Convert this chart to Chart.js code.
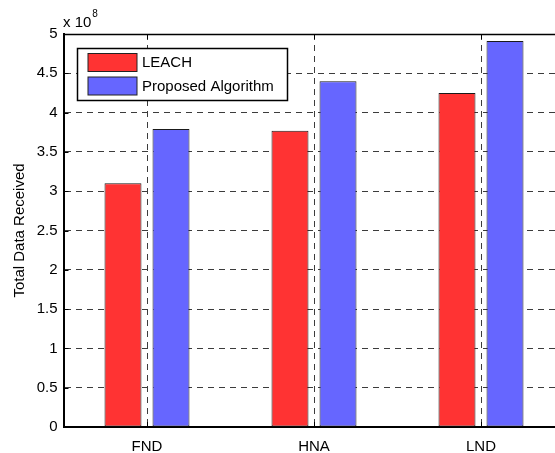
<!DOCTYPE html>
<html>
<head>
<meta charset="utf-8">
<script src="https://cdn.jsdelivr.net/npm/chart.js@4/dist/chart.umd.min.js"></script>
<style>
  body { margin: 0; background: #fff; overflow: hidden; }
  #wrap { position: relative; width: 555px; height: 453px; overflow: hidden; }
  #chart { position: absolute; left: 0; top: 0; }
</style>
</head>
<body>
<div id="wrap"><canvas id="chart" width="600" height="453"></canvas></div>
<script>
// === data (values in units of 10^8) ===
const categories = ["FND", "HNA", "LND"];
const leachValues = [3.10, 3.77, 4.25];
const proposedValues = [3.79, 4.40, 4.91];
const seriesNames = ["LEACH", "Proposed Algorithm"];
const yTickLabels = ["0", "0.5", "1", "1.5", "2", "2.5", "3", "3.5", "4", "4.5", "5"];
const yTitle = "Total Data Received";
const exponentText = "x 10";
const exponentPower = "8";

const FONT = '"Liberation Sans", Arial, sans-serif';
const gridColor = "#3c3c3c";

// legend drawn inside the axes, plus the exponent label, y title, box and tick marks
const matlabLook = {
  id: "matlabLook",
  afterDraw(chart) {
    const ctx = chart.ctx;
    const a = chart.chartArea;
    const xs = chart.scales.x, ys = chart.scales.y;
    ctx.save();

    // top border
    ctx.strokeStyle = "#000";
    ctx.lineWidth = 1.5;
    ctx.beginPath();
    ctx.moveTo(a.left, a.top + 0.5);
    ctx.lineTo(a.right, a.top + 0.5);
    ctx.stroke();

    // inward tick marks
    ctx.lineWidth = 1;
    ys.ticks.forEach((t, i) => {
      const y = Math.round(ys.getPixelForTick(i)) + 0.5;
      ctx.beginPath();
      ctx.moveTo(a.left, y);
      ctx.lineTo(a.left + 5, y);
      ctx.stroke();
    });
    categories.forEach((c, i) => {
      const x = Math.round(xs.getPixelForTick(i)) + 0.5;
      ctx.beginPath();
      ctx.moveTo(x, a.bottom);
      ctx.lineTo(x, a.bottom - 5);
      ctx.moveTo(x, a.top);
      ctx.lineTo(x, a.top + 5);
      ctx.stroke();
    });

    // exponent label
    ctx.fillStyle = "#000";
    ctx.textBaseline = "alphabetic";
    ctx.textAlign = "left";
    ctx.font = "15px " + FONT;
    ctx.fillText(exponentText, 63, 27);
    const w = ctx.measureText(exponentText).width;
    ctx.font = "10px " + FONT;
    ctx.fillText(exponentPower, 63 + w + 1, 17);

    // y title
    ctx.font = "15px " + FONT;
    ctx.translate(19.5, (a.top + a.bottom) / 2);
    ctx.rotate(-Math.PI / 2);
    ctx.textAlign = "center";
    ctx.textBaseline = "middle";
    ctx.fillText(yTitle, 0, 0);
    ctx.setTransform(1, 0, 0, 1, 0, 0);

    // legend
    ctx.fillStyle = "#fff";
    ctx.fillRect(77.5, 48.5, 210, 52);
    ctx.strokeStyle = "#000";
    ctx.lineWidth = 1.5;
    ctx.strokeRect(77.5, 48.5, 210, 52);
    ctx.lineWidth = 1;
    chart.data.datasets.forEach((ds, i) => {
      const y = 53.5 + i * 23.5;
      ctx.fillStyle = ds.backgroundColor;
      ctx.fillRect(88, y, 49, 18);
      ctx.strokeStyle = "#222";
      ctx.strokeRect(88, y, 49, 18);
      ctx.fillStyle = "#000";
      ctx.font = "15px " + FONT;
      ctx.textAlign = "left";
      ctx.textBaseline = "middle";
      ctx.fillText(ds.label, 142, y + 9.5);
    });
    ctx.restore();
  }
};

new Chart(document.getElementById("chart"), {
  type: "bar",
  data: {
    labels: categories,
    datasets: [
      {
        label: seriesNames[0],
        data: leachValues,
        backgroundColor: "rgb(255, 51, 51)",
        borderColor: "#1a1a1a",
        borderWidth: 1,
        borderSkipped: false
      },
      {
        label: seriesNames[1],
        data: proposedValues,
        backgroundColor: "rgb(102, 102, 255)",
        borderColor: "#1a1a1a",
        borderWidth: 1,
        borderSkipped: false
      }
    ]
  },
  options: {
    responsive: false,
    animation: false,
    devicePixelRatio: 1,
    categoryPercentage: 0.575,
    barPercentage: 0.77,
    layout: { padding: { top: 34, right: 35.5, left: 0, bottom: 0 } },
    plugins: {
      legend: { display: false },
      tooltip: { enabled: false }
    },
    scales: {
      x: {
        offset: true,
        grid: {
          offset: false,
          drawTicks: false,
          color: gridColor,
          lineWidth: 1
        },
        border: { display: true, color: "#000", width: 2, dash: [6, 5] },
        ticks: { color: "#000", font: { family: FONT, size: 15 }, padding: 11 },
        afterFit(scale) { scale.height = 26; }
      },
      y: {
        min: 0,
        max: 5,
        grid: { drawTicks: false, color: gridColor, lineWidth: 1 },
        border: { display: true, color: "#000", width: 2, dash: [6, 5] },
        ticks: {
          stepSize: 0.5,
          color: "#000",
          font: { family: FONT, size: 15 },
          padding: 6,
          callback: (v, i) => yTickLabels[i]
        },
        afterFit(scale) { scale.width = 63.5; }
      }
    }
  },
  plugins: [matlabLook]
});
</script>
</body>
</html>
